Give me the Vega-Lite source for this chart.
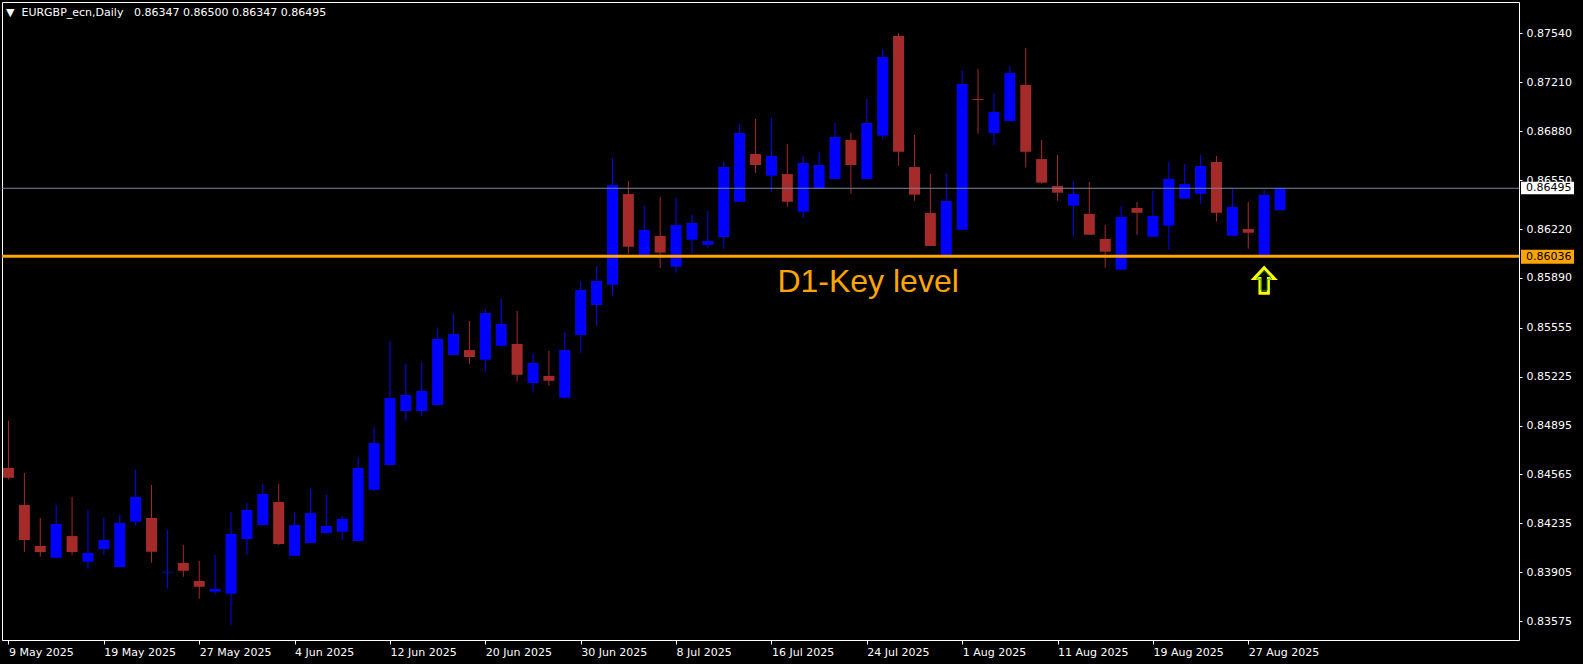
{
  "$schema": "https://vega.github.io/schema/vega-lite/v6.json",
  "width": 1517,
  "height": 638,
  "autosize": {"type": "none"},
  "padding": {"left": 2, "top": 2, "right": 64, "bottom": 24},
  "background": "black",
  "config": {
    "view": {"stroke": "white", "strokeWidth": 1, "fill": "black"},
    "font": "DejaVu Sans"
  },
  "title": {
    "text": "▼\u00a0\u00a0EURGBP_ecn,Daily\u00a0\u00a0 0.86347 0.86500 0.86347 0.86495",
    "orient": "top",
    "anchor": "start",
    "frame": "group",
    "offset": -16,
    "dx": 4,
    "color": "white",
    "font": "DejaVu Sans",
    "fontSize": 11,
    "fontWeight": "normal",
    "baseline": "top"
  },
  "datasets": {
    "candles": [
      {"date": "2025-05-09", "open": 0.84609, "high": 0.84928, "low": 0.84533, "close": 0.84543},
      {"date": "2025-05-12", "open": 0.84359, "high": 0.84575, "low": 0.84042, "close": 0.84123},
      {"date": "2025-05-13", "open": 0.84083, "high": 0.84272, "low": 0.84011, "close": 0.84042},
      {"date": "2025-05-14", "open": 0.84004, "high": 0.84359, "low": 0.84000, "close": 0.84231},
      {"date": "2025-05-15", "open": 0.84150, "high": 0.84413, "low": 0.84024, "close": 0.84042},
      {"date": "2025-05-16", "open": 0.83977, "high": 0.84326, "low": 0.83930, "close": 0.84036},
      {"date": "2025-05-19", "open": 0.84063, "high": 0.84272, "low": 0.84024, "close": 0.84123},
      {"date": "2025-05-20", "open": 0.83941, "high": 0.84292, "low": 0.83938, "close": 0.84238},
      {"date": "2025-05-21", "open": 0.84247, "high": 0.84595, "low": 0.84220, "close": 0.84413},
      {"date": "2025-05-22", "open": 0.84272, "high": 0.84494, "low": 0.83970, "close": 0.84044},
      {"date": "2025-05-23", "open": 0.83904, "high": 0.84191, "low": 0.83795, "close": 0.83908},
      {"date": "2025-05-26", "open": 0.83968, "high": 0.84090, "low": 0.83876, "close": 0.83916},
      {"date": "2025-05-27", "open": 0.83847, "high": 0.83982, "low": 0.83727, "close": 0.83808},
      {"date": "2025-05-28", "open": 0.83775, "high": 0.84022, "low": 0.83754, "close": 0.83793},
      {"date": "2025-05-29", "open": 0.83761, "high": 0.84312, "low": 0.83552, "close": 0.84164},
      {"date": "2025-05-30", "open": 0.84130, "high": 0.84373, "low": 0.84024, "close": 0.84326},
      {"date": "2025-06-02", "open": 0.84224, "high": 0.84501, "low": 0.84224, "close": 0.84434},
      {"date": "2025-06-03", "open": 0.84380, "high": 0.84501, "low": 0.84090, "close": 0.84096},
      {"date": "2025-06-04", "open": 0.84017, "high": 0.84312, "low": 0.84017, "close": 0.84224},
      {"date": "2025-06-05", "open": 0.84103, "high": 0.84474, "low": 0.84103, "close": 0.84305},
      {"date": "2025-06-06", "open": 0.84171, "high": 0.84427, "low": 0.84166, "close": 0.84218},
      {"date": "2025-06-09", "open": 0.84179, "high": 0.84285, "low": 0.84125, "close": 0.84265},
      {"date": "2025-06-10", "open": 0.84117, "high": 0.84683, "low": 0.84117, "close": 0.84609},
      {"date": "2025-06-11", "open": 0.84462, "high": 0.84885, "low": 0.84454, "close": 0.84777},
      {"date": "2025-06-12", "open": 0.84629, "high": 0.85465, "low": 0.84629, "close": 0.85081},
      {"date": "2025-06-13", "open": 0.84993, "high": 0.85310, "low": 0.84928, "close": 0.85101},
      {"date": "2025-06-16", "open": 0.84993, "high": 0.85317, "low": 0.84961, "close": 0.85128},
      {"date": "2025-06-17", "open": 0.85034, "high": 0.85553, "low": 0.85034, "close": 0.85479},
      {"date": "2025-06-18", "open": 0.85371, "high": 0.85647, "low": 0.85371, "close": 0.85512},
      {"date": "2025-06-19", "open": 0.85404, "high": 0.85600, "low": 0.85310, "close": 0.85357},
      {"date": "2025-06-20", "open": 0.85339, "high": 0.85681, "low": 0.85258, "close": 0.85654},
      {"date": "2025-06-23", "open": 0.85433, "high": 0.85748, "low": 0.85427, "close": 0.85580},
      {"date": "2025-06-24", "open": 0.85445, "high": 0.85667, "low": 0.85191, "close": 0.85238},
      {"date": "2025-06-25", "open": 0.85182, "high": 0.85384, "low": 0.85123, "close": 0.85317},
      {"date": "2025-06-26", "open": 0.85229, "high": 0.85398, "low": 0.85164, "close": 0.85197},
      {"date": "2025-06-27", "open": 0.85083, "high": 0.85526, "low": 0.85076, "close": 0.85404},
      {"date": "2025-06-30", "open": 0.85506, "high": 0.85863, "low": 0.85386, "close": 0.85809},
      {"date": "2025-07-01", "open": 0.85708, "high": 0.85971, "low": 0.85568, "close": 0.85870},
      {"date": "2025-07-02", "open": 0.85845, "high": 0.86699, "low": 0.85771, "close": 0.86517},
      {"date": "2025-07-03", "open": 0.86456, "high": 0.86544, "low": 0.86054, "close": 0.86101},
      {"date": "2025-07-04", "open": 0.86038, "high": 0.86375, "low": 0.86036, "close": 0.86214},
      {"date": "2025-07-07", "open": 0.86173, "high": 0.86436, "low": 0.85959, "close": 0.86061},
      {"date": "2025-07-08", "open": 0.85966, "high": 0.86429, "low": 0.85926, "close": 0.86247},
      {"date": "2025-07-09", "open": 0.86148, "high": 0.86315, "low": 0.86054, "close": 0.86261},
      {"date": "2025-07-10", "open": 0.86113, "high": 0.86342, "low": 0.86094, "close": 0.86139},
      {"date": "2025-07-11", "open": 0.86166, "high": 0.86672, "low": 0.86088, "close": 0.86638},
      {"date": "2025-07-14", "open": 0.86404, "high": 0.86928, "low": 0.86404, "close": 0.86868},
      {"date": "2025-07-15", "open": 0.86726, "high": 0.86962, "low": 0.86600, "close": 0.86652},
      {"date": "2025-07-16", "open": 0.86580, "high": 0.86969, "low": 0.86472, "close": 0.86713},
      {"date": "2025-07-17", "open": 0.86591, "high": 0.86794, "low": 0.86371, "close": 0.86404},
      {"date": "2025-07-18", "open": 0.86337, "high": 0.86713, "low": 0.86297, "close": 0.86665},
      {"date": "2025-07-21", "open": 0.86490, "high": 0.86740, "low": 0.86490, "close": 0.86652},
      {"date": "2025-07-22", "open": 0.86558, "high": 0.86935, "low": 0.86558, "close": 0.86841},
      {"date": "2025-07-23", "open": 0.86821, "high": 0.86868, "low": 0.86458, "close": 0.86652},
      {"date": "2025-07-24", "open": 0.86558, "high": 0.87097, "low": 0.86558, "close": 0.86935},
      {"date": "2025-07-25", "open": 0.86850, "high": 0.87434, "low": 0.86823, "close": 0.87380},
      {"date": "2025-07-28", "open": 0.87522, "high": 0.87542, "low": 0.86647, "close": 0.86742},
      {"date": "2025-07-29", "open": 0.86638, "high": 0.86854, "low": 0.86411, "close": 0.86452},
      {"date": "2025-07-30", "open": 0.86328, "high": 0.86591, "low": 0.86106, "close": 0.86106},
      {"date": "2025-07-31", "open": 0.86038, "high": 0.86591, "low": 0.86036, "close": 0.86409},
      {"date": "2025-08-01", "open": 0.86216, "high": 0.87286, "low": 0.86216, "close": 0.87198},
      {"date": "2025-08-04", "open": 0.87097, "high": 0.87299, "low": 0.86863, "close": 0.87090},
      {"date": "2025-08-05", "open": 0.86868, "high": 0.87131, "low": 0.86787, "close": 0.87009},
      {"date": "2025-08-06", "open": 0.86949, "high": 0.87320, "low": 0.86949, "close": 0.87272},
      {"date": "2025-08-07", "open": 0.87191, "high": 0.87441, "low": 0.86634, "close": 0.86742},
      {"date": "2025-08-08", "open": 0.86692, "high": 0.86821, "low": 0.86526, "close": 0.86533},
      {"date": "2025-08-11", "open": 0.86510, "high": 0.86719, "low": 0.86411, "close": 0.86465},
      {"date": "2025-08-12", "open": 0.86378, "high": 0.86544, "low": 0.86168, "close": 0.86456},
      {"date": "2025-08-13", "open": 0.86322, "high": 0.86537, "low": 0.86182, "close": 0.86182},
      {"date": "2025-08-14", "open": 0.86153, "high": 0.86247, "low": 0.85959, "close": 0.86067},
      {"date": "2025-08-15", "open": 0.85946, "high": 0.86375, "low": 0.85946, "close": 0.86301},
      {"date": "2025-08-18", "open": 0.86362, "high": 0.86402, "low": 0.86182, "close": 0.86330},
      {"date": "2025-08-19", "open": 0.86168, "high": 0.86477, "low": 0.86168, "close": 0.86308},
      {"date": "2025-08-20", "open": 0.86243, "high": 0.86672, "low": 0.86081, "close": 0.86558},
      {"date": "2025-08-21", "open": 0.86425, "high": 0.86659, "low": 0.86425, "close": 0.86524},
      {"date": "2025-08-22", "open": 0.86458, "high": 0.86719, "low": 0.86391, "close": 0.86645},
      {"date": "2025-08-25", "open": 0.86672, "high": 0.86713, "low": 0.86270, "close": 0.86330},
      {"date": "2025-08-26", "open": 0.86175, "high": 0.86492, "low": 0.86175, "close": 0.86369},
      {"date": "2025-08-27", "open": 0.86220, "high": 0.86402, "low": 0.86088, "close": 0.86195},
      {"date": "2025-08-28", "open": 0.86038, "high": 0.86483, "low": 0.86036, "close": 0.86450},
      {"date": "2025-08-29", "open": 0.86347, "high": 0.86500, "low": 0.86347, "close": 0.86495}
    ]
  },
  "layer": [
    {
      "data": {"name": "candles"},
      "transform": [
        {"window": [{"op": "row_number", "as": "n"}], "sort": [{"field": "date", "order": "ascending"}]}
      ],
      "encoding": {
        "x": {
          "field": "n",
          "type": "quantitative",
          "scale": {"domain": [0.90625, 95.71875], "nice": false, "zero": false},
          "axis": {
            "orient": "bottom",
            "values": [1, 7, 13, 19, 25, 31, 37, 43, 49, 55, 61, 67, 73, 79],
            "labelExpr": "['9 May 2025','19 May 2025','27 May 2025','4 Jun 2025','12 Jun 2025','20 Jun 2025','30 Jun 2025','8 Jul 2025','16 Jul 2025','24 Jul 2025','1 Aug 2025','11 Aug 2025','19 Aug 2025','27 Aug 2025'][round((datum.value-1)/6)]",
            "labelAlign": "left",
            "labelBaseline": "top",
            "labelColor": "white",
            "labelFont": "DejaVu Sans",
            "labelFontSize": 11,
            "labelPadding": 2,
            "labelOverlap": false,
            "labelFlush": false,
            "tickColor": "white",
            "tickSize": 4,
            "domain": false,
            "grid": false,
            "title": null
          }
        },
        "color": {
          "condition": {"test": "datum.close >= datum.open", "value": "#0000FF"},
          "value": "#A52A2A"
        }
      },
      "layer": [
        {
          "mark": {"type": "rule", "strokeWidth": 1, "clip": true},
          "encoding": {
            "y": {
              "field": "low",
              "type": "quantitative",
              "scale": {"domain": [0.83449, 0.87751], "nice": false, "zero": false},
              "axis": {
                "orient": "right",
                "values": [0.83575, 0.83905, 0.84235, 0.84565, 0.84895, 0.85225, 0.85555, 0.8589, 0.8622, 0.8655, 0.8688, 0.8721, 0.8754],
                "format": ".5f",
                "labelColor": "white",
                "labelFont": "DejaVu Sans",
                "labelFontSize": 11,
                "labelPadding": 4,
                "labelBaseline": "middle",
                "tickColor": "white",
                "tickSize": 3,
                "domain": false,
                "grid": false,
                "title": null
              }
            },
            "y2": {"field": "high"}
          }
        },
        {
          "mark": {"type": "bar", "width": 11, "clip": true},
          "encoding": {
            "y": {"field": "open", "type": "quantitative", "scale": {"domain": [0.83449, 0.87751], "nice": false, "zero": false}},
            "y2": {"field": "close"}
          }
        }
      ]
    },
    {
      "data": {"values": [{"price": 0.86495, "label": "0.86495"}]},
      "layer": [
        {
          "mark": {"type": "rule", "color": "#778899", "strokeWidth": 1},
          "encoding": {"y": {"field": "price", "type": "quantitative"}}
        },
        {
          "mark": {"type": "rect", "fill": "white", "xOffset": 2, "x2Offset": 55, "yOffset": -6.5, "y2Offset": 6},
          "encoding": {"x": {"value": "width"}, "x2": {"value": "width"}, "y": {"field": "price", "type": "quantitative"}, "y2": {"field": "price"}}
        },
        {
          "mark": {"type": "text", "align": "left", "baseline": "middle", "dx": 7, "color": "black", "font": "DejaVu Sans", "fontSize": 11},
          "encoding": {"x": {"value": "width"}, "y": {"field": "price", "type": "quantitative"}, "text": {"field": "label"}}
        }
      ]
    },
    {
      "data": {"values": [{"price": 0.86036, "label": "0.86036"}]},
      "layer": [
        {
          "mark": {"type": "rule", "color": "#FFA500", "strokeWidth": 3},
          "encoding": {"y": {"field": "price", "type": "quantitative"}}
        },
        {
          "mark": {"type": "rect", "fill": "#FFA500", "xOffset": 2, "x2Offset": 55, "yOffset": -6.5, "y2Offset": 7.5},
          "encoding": {"x": {"value": "width"}, "x2": {"value": "width"}, "y": {"field": "price", "type": "quantitative"}, "y2": {"field": "price"}}
        },
        {
          "mark": {"type": "text", "align": "left", "baseline": "middle", "dx": 7, "dy": 1, "color": "black", "font": "DejaVu Sans", "fontSize": 11},
          "encoding": {"x": {"value": "width"}, "y": {"field": "price", "type": "quantitative"}, "text": {"field": "label"}}
        }
      ]
    },
    {
      "data": {"values": [{"label": "D1-Key level", "n": 49.375, "price": 0.85796}]},
      "mark": {"type": "text", "align": "left", "baseline": "alphabetic", "color": "#FFA500", "font": "Liberation Sans", "fontSize": 32},
      "encoding": {
        "x": {"field": "n", "type": "quantitative"},
        "y": {"field": "price", "type": "quantitative"},
        "text": {"field": "label"}
      }
    },
    {
      "data": {"values": [{"n": 80, "price": 0.85873}]},
      "layer": [
        {
          "mark": {"type": "point", "shape": "M0,-1L0.8,-0.15L0.33,-0.15L0.33,1L-0.33,1L-0.33,-0.15L-0.8,-0.15Z", "filled": true, "fill": "black", "stroke": "#FFFF00", "strokeWidth": 3, "opacity": 1, "size": 650},
          "encoding": {
            "x": {"field": "n", "type": "quantitative"},
            "y": {"field": "price", "type": "quantitative"}
          }
        },
        {
          "mark": {"type": "point", "shape": "M0,-1L0.8,-0.15L0.33,-0.15L0.33,1L-0.33,1L-0.33,-0.15L-0.8,-0.15Z", "filled": false, "stroke": "#00A000", "strokeWidth": 0.8, "opacity": 1, "size": 380},
          "encoding": {
            "x": {"field": "n", "type": "quantitative"},
            "y": {"field": "price", "type": "quantitative"}
          }
        }
      ]
    }
  ]
}
